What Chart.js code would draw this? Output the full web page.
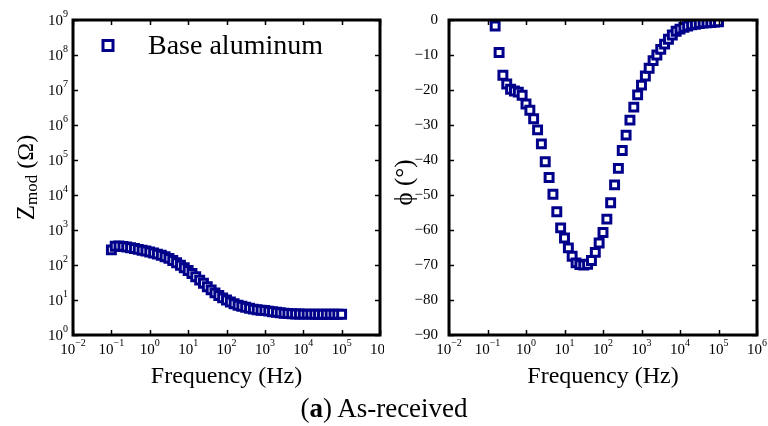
<!DOCTYPE html>
<html>
<head>
<meta charset="utf-8">
<script src="https://cdn.jsdelivr.net/npm/chart.js@4.4.0/dist/chart.umd.min.js"></script>
<style>
  html, body { margin: 0; padding: 0; background: #fff; width: 768px; height: 426px; overflow: hidden; }
  .panel { position: absolute; top: 0; width: 384px; height: 400px; }
  #left { left: 0; }
  #right { left: 384px; }
  #caption { position: absolute; left: 0; width: 768px; top: 392px; line-height: 32px; text-align: center;
             font-family: "Liberation Serif", "Times New Roman", serif; font-size: 27px; color: #000; }
</style>
</head>
<body>
<div class="panel" id="left"><canvas id="zmodChart" width="384" height="400"></canvas></div>
<div class="panel" id="right"><canvas id="phaseChart" width="384" height="400"></canvas></div>
<div id="caption">(<b>a</b>) As-received</div>
<script>
// measurement frequencies, 10 per decade
const freqHz = [
  0.1, 0.126, 0.158, 0.2, 0.251, 0.316, 0.398, 0.501, 0.631, 0.794,
  1, 1.26, 1.58, 2, 2.51, 3.16, 3.98, 5.01, 6.31, 7.94,
  10, 12.6, 15.8, 20, 25.1, 31.6, 39.8, 50.1, 63.1, 79.4,
  100, 126, 158, 200, 251, 316, 398, 501, 631, 794,
  1000, 1260, 1580, 2000, 2510, 3160, 3980, 5010, 6310, 7940,
  10000, 12600, 15800, 20000, 25100, 31600, 39800, 50100, 63100, 79400, 100000
];

// |Z| in ohm
const zmodOhm = [
  270, 345, 350, 340, 325, 310, 295, 280, 265, 250,
  235, 220, 205, 190, 172, 155, 135, 116, 98, 83,
  70, 57, 46, 37, 30, 24, 19.5, 16, 13.5, 11.5,
  10, 8.8, 7.8, 7.1, 6.6, 6.2, 5.8, 5.5, 5.25, 5.1,
  5.0, 4.8, 4.6, 4.45, 4.3, 4.2, 4.1, 4.05, 4.0, 4.0,
  3.95, 3.95, 3.95, 3.9, 3.9, 3.9, 3.9, 3.9, 3.9, 3.9, 3.9
];

// phase angle in degrees (first two points are above the plotted range)
const phaseDeg = [
  null, null, -1.7, -9.3, -15.8, -18.3, -19.8, -20.3, -20.6, -21.5,
  -24, -25.8, -28.2, -31.4, -35.4, -40.5, -45, -49.8, -54.8, -59.4,
  -62.3, -65.1, -67.5, -69.4, -69.9, -70, -69.8, -68.7, -66.4, -63.7,
  -60.7, -56.9, -52.2, -47.1, -42.4, -37.3, -32.9, -28.6, -24.9, -21.4,
  -18.6, -16, -13.8, -11.6, -10, -8.4, -6.9, -5.5, -4.3, -3.2,
  -2.6, -2.1, -1.7, -1.4, -1.2, -1.0, -0.9, -0.8, -0.7, -0.6, -0.5
];

const freqExps = [-2, -1, 0, 1, 2, 3, 4, 5, 6];
const zmodExps = [0, 1, 2, 3, 4, 5, 6, 7, 8, 9];
const phaseTicks = [-90, -80, -70, -60, -50, -40, -30, -20, -10, 0];

const seriesName = 'Base aluminum';
const navy = '#00008b';
const serif = '"Liberation Serif", "Times New Roman", serif';

// "10" with a raised exponent
function drawPower(ctx, exp, x, y, align) {
  const base = '10';
  const sup = exp < 0 ? '\u2212' + Math.abs(exp) : String(exp);
  ctx.font = '15px ' + serif;
  const wb = ctx.measureText(base).width;
  ctx.font = '10px ' + serif;
  const we = ctx.measureText(sup).width;
  let sx = align === 'right' ? x - wb - we : x - (wb + we) / 2;
  ctx.textAlign = 'left';
  ctx.textBaseline = 'middle';
  ctx.font = '15px ' + serif;
  ctx.fillText(base, sx, y);
  ctx.font = '10px ' + serif;
  ctx.fillText(sup, sx + wb, y - 7);
}

// draws a rotated title made of [text, size, dy] parts
function drawRotTitle(ctx, parts, cx, cy) {
  ctx.save();
  ctx.translate(cx, cy);
  ctx.rotate(-Math.PI / 2);
  ctx.textBaseline = 'middle';
  ctx.textAlign = 'left';
  let total = 0;
  parts.forEach(p => { ctx.font = p[1] + 'px ' + serif; total += ctx.measureText(p[0]).width; });
  let x = -total / 2;
  parts.forEach(p => {
    ctx.font = p[1] + 'px ' + serif;
    ctx.fillText(p[0], x, p[2]);
    x += ctx.measureText(p[0]).width;
  });
  ctx.restore();
}

const framePlugin = {
  id: 'frame',
  afterDraw(chart, args, opts) {
    const ctx = chart.ctx;
    const a = chart.chartArea;
    const xs = chart.scales.x;
    const ys = chart.scales.y;
    ctx.save();
    ctx.strokeStyle = '#000';
    ctx.fillStyle = '#000';
    ctx.lineWidth = 1.5;
    ctx.beginPath();
    xs.ticks.forEach(t => {
      const px = Math.round(xs.getPixelForValue(t.value)) + 0.5;
      ctx.moveTo(px, a.top); ctx.lineTo(px, a.top + 5);
      ctx.moveTo(px, a.bottom); ctx.lineTo(px, a.bottom - 5);
    });
    ys.ticks.forEach(t => {
      const py = Math.round(ys.getPixelForValue(t.value)) + 0.5;
      ctx.moveTo(a.left, py); ctx.lineTo(a.left + 5, py);
      ctx.moveTo(a.right, py); ctx.lineTo(a.right - 5, py);
    });
    ctx.stroke();
    ctx.lineWidth = 3;
    ctx.strokeRect(a.left, a.top, a.right - a.left, a.bottom - a.top);

    // decade labels on the frequency axis
    xs.ticks.forEach(t => {
      drawPower(ctx, Math.round(Math.log10(t.value)), xs.getPixelForValue(t.value), a.bottom + 15, 'center');
    });
    if (opts.logY) {
      ys.ticks.forEach(t => {
        drawPower(ctx, Math.round(Math.log10(t.value)), a.left - 5, ys.getPixelForValue(t.value) + 1, 'right');
      });
    }
    if (opts.yTitle) {
      drawRotTitle(ctx, opts.yTitle, opts.yTitleX, (a.top + a.bottom) / 2 + opts.yTitleDy);
    }
    if (opts.legend) {
      const mx = a.left + 35, my = a.top + 25.5;
      ctx.fillStyle = '#fff';
      ctx.fillRect(mx - 5, my - 5, 10, 10);
      ctx.strokeStyle = navy;
      ctx.lineWidth = 3;
      ctx.strokeRect(mx - 5, my - 5, 10, 10);
      ctx.fillStyle = '#000';
      ctx.font = '28px ' + serif;
      ctx.textAlign = 'left';
      ctx.textBaseline = 'alphabetic';
      ctx.fillText(opts.legend, a.left + 75, a.top + 34);
    }
    ctx.restore();
  }
};

function freqAxis() {
  return {
    type: 'logarithmic',
    min: 10 ** freqExps[0],
    max: 10 ** freqExps[freqExps.length - 1],
    afterBuildTicks: s => { s.ticks = freqExps.map(e => ({ value: 10 ** e })); },
    afterFit: s => { s.height = 60; },
    ticks: { display: false },
    grid: { display: false, drawTicks: false },
    border: { display: false },
    title: { display: true, text: 'Frequency (Hz)', color: '#000', font: { family: serif, size: 24 }, padding: { top: 0, bottom: 4 } }
  };
}

function dataset(values) {
  return {
    label: seriesName,
    data: freqHz.map((f, i) => ({ x: f, y: values[i] })),
    showLine: false,
    pointStyle: 'rect',
    pointRadius: 5.6,
    pointBorderWidth: 3,
    pointBorderColor: navy,
    pointBackgroundColor: '#fff'
  };
}

Chart.defaults.font.family = serif;

new Chart(document.getElementById('zmodChart'), {
  type: 'scatter',
  data: { datasets: [dataset(zmodOhm)] },
  plugins: [framePlugin],
  options: {
    responsive: false,
    animation: false,
    devicePixelRatio: 1,
    layout: { autoPadding: false, padding: { top: 20, right: 4, bottom: 5, left: 0 } },
    plugins: {
      legend: { display: false },
      tooltip: { enabled: false },
      frame: {
        logY: true,
        legend: seriesName,
        yTitle: [['Z', 25, 0], ['mod', 17, 6], [' (\u03A9)', 24, 0]],
        yTitleX: 27,
        yTitleDy: 0
      }
    },
    scales: {
      x: freqAxis(),
      y: {
        type: 'logarithmic',
        min: 10 ** zmodExps[0],
        max: 10 ** zmodExps[zmodExps.length - 1],
        afterBuildTicks: s => { s.ticks = zmodExps.map(e => ({ value: 10 ** e })); },
        afterFit: s => { s.width = 73; },
        ticks: { display: false },
        grid: { display: false, drawTicks: false },
        border: { display: false }
      }
    }
  }
});

new Chart(document.getElementById('phaseChart'), {
  type: 'scatter',
  data: { datasets: [dataset(phaseDeg)] },
  plugins: [framePlugin],
  options: {
    responsive: false,
    animation: false,
    devicePixelRatio: 1,
    layout: { autoPadding: false, padding: { top: 20, right: 11, bottom: 5, left: 0 } },
    plugins: {
      legend: { display: false },
      tooltip: { enabled: false },
      frame: {
        logY: false,
        yTitle: [['\u03D5 (\u00B0)', 25, 0]],
        yTitleX: 21,
        yTitleDy: 5
      }
    },
    scales: {
      x: freqAxis(),
      y: {
        type: 'linear',
        min: phaseTicks[0],
        max: phaseTicks[phaseTicks.length - 1],
        afterBuildTicks: s => { s.ticks = phaseTicks.map(v => ({ value: v })); },
        afterFit: s => { s.width = 65; },
        ticks: {
          color: '#000',
          font: { family: serif, size: 15 },
          padding: 11,
          callback: v => (v < 0 ? '\u2212' + Math.abs(v) : '0')
        },
        grid: { display: false, drawTicks: false },
        border: { display: false }
      }
    }
  }
});
</script>
</body>
</html>
